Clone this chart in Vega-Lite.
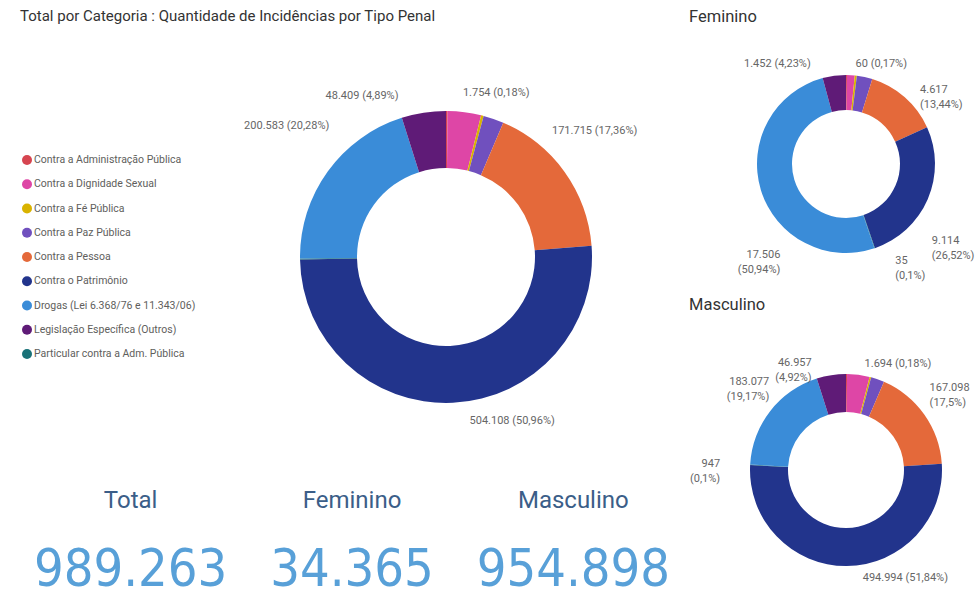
{
  "$schema": "https://vega.github.io/schema/vega-lite/v6.json",
  "padding": {"left": 20, "top": 8, "right": 0, "bottom": 0},
  "background": "white",
  "config": {
    "view": {"stroke": null},
    "font": "Roboto",
    "locale": {"number": {"decimal": ",", "thousands": ".", "grouping": [3], "currency": ["R$ ", ""]}},
    "title": {"anchor": "start", "fontWeight": "normal", "color": "#333333", "font": "Roboto", "baseline": "bottom"},
    "text": {"font": "Roboto", "fontSize": 11, "fill": "#666666", "baseline": "middle", "lineBreak": "\n", "lineHeight": 15}
  },
  "datasets": {
    "incid": [
      {"grupo": "Total", "categoria": "Contra a Administração Pública", "ordem": 1, "valor": 1754, "rotulo": "1.754 (0,18%)"},
      {"grupo": "Total", "categoria": "Contra a Dignidade Sexual", "ordem": 2, "valor": 36500, "rotulo": ""},
      {"grupo": "Total", "categoria": "Contra a Fé Pública", "ordem": 3, "valor": 2800, "rotulo": ""},
      {"grupo": "Total", "categoria": "Contra a Paz Pública", "ordem": 4, "valor": 22412, "rotulo": ""},
      {"grupo": "Total", "categoria": "Contra a Pessoa", "ordem": 5, "valor": 171715, "rotulo": "171.715 (17,36%)"},
      {"grupo": "Total", "categoria": "Contra o Patrimônio", "ordem": 6, "valor": 504108, "rotulo": "504.108 (50,96%)"},
      {"grupo": "Total", "categoria": "Particular contra a Adm. Pública", "ordem": 7, "valor": 982, "rotulo": ""},
      {"grupo": "Total", "categoria": "Drogas (Lei 6.368/76 e 11.343/06)", "ordem": 8, "valor": 200583, "rotulo": "200.583 (20,28%)"},
      {"grupo": "Total", "categoria": "Legislação Específica (Outros)", "ordem": 9, "valor": 48409, "rotulo": "48.409 (4,89%)"},
      {"grupo": "Feminino", "categoria": "Contra a Administração Pública", "ordem": 1, "valor": 60, "rotulo": "60 (0,17%)"},
      {"grupo": "Feminino", "categoria": "Contra a Dignidade Sexual", "ordem": 2, "valor": 480, "rotulo": ""},
      {"grupo": "Feminino", "categoria": "Contra a Fé Pública", "ordem": 3, "valor": 130, "rotulo": ""},
      {"grupo": "Feminino", "categoria": "Contra a Paz Pública", "ordem": 4, "valor": 971, "rotulo": ""},
      {"grupo": "Feminino", "categoria": "Contra a Pessoa", "ordem": 5, "valor": 4617, "rotulo": "4.617\n(13,44%)"},
      {"grupo": "Feminino", "categoria": "Contra o Patrimônio", "ordem": 6, "valor": 9114, "rotulo": "9.114\n(26,52%)"},
      {"grupo": "Feminino", "categoria": "Particular contra a Adm. Pública", "ordem": 7, "valor": 35, "rotulo": "35\n(0,1%)"},
      {"grupo": "Feminino", "categoria": "Drogas (Lei 6.368/76 e 11.343/06)", "ordem": 8, "valor": 17506, "rotulo": "17.506\n(50,94%)"},
      {"grupo": "Feminino", "categoria": "Legislação Específica (Outros)", "ordem": 9, "valor": 1452, "rotulo": "1.452 (4,23%)"},
      {"grupo": "Masculino", "categoria": "Contra a Administração Pública", "ordem": 1, "valor": 1694, "rotulo": "1.694 (0,18%)"},
      {"grupo": "Masculino", "categoria": "Contra a Dignidade Sexual", "ordem": 2, "valor": 36020, "rotulo": ""},
      {"grupo": "Masculino", "categoria": "Contra a Fé Pública", "ordem": 3, "valor": 2670, "rotulo": ""},
      {"grupo": "Masculino", "categoria": "Contra a Paz Pública", "ordem": 4, "valor": 21441, "rotulo": ""},
      {"grupo": "Masculino", "categoria": "Contra a Pessoa", "ordem": 5, "valor": 167098, "rotulo": "167.098\n(17,5%)"},
      {"grupo": "Masculino", "categoria": "Contra o Patrimônio", "ordem": 6, "valor": 494994, "rotulo": "494.994 (51,84%)"},
      {"grupo": "Masculino", "categoria": "Particular contra a Adm. Pública", "ordem": 7, "valor": 947, "rotulo": "947\n(0,1%)"},
      {"grupo": "Masculino", "categoria": "Drogas (Lei 6.368/76 e 11.343/06)", "ordem": 8, "valor": 183077, "rotulo": "183.077\n(19,17%)"},
      {"grupo": "Masculino", "categoria": "Legislação Específica (Outros)", "ordem": 9, "valor": 46957, "rotulo": "46.957\n(4,92%)"}
    ]
  },
  "data": {"name": "incid"},
  "spacing": 5,
  "resolve": {"scale": {"color": "independent", "theta": "independent"}, "legend": {"color": "independent"}},
  "hconcat": [
    {
      "spacing": 0,
      "resolve": {"scale": {"color": "independent", "theta": "independent"}, "legend": {"color": "independent"}},
      "vconcat": [
        {
          "title": {"text": "Total por Categoria : Quantidade de Incidências por Tipo Penal", "fontSize": 15, "anchor": "start", "frame": "group", "offset": 17},
          "bounds": "flush",
          "center": true,
          "spacing": 186,
          "resolve": {"scale": {"color": "independent", "theta": "independent", "y": "independent"}, "legend": {"color": "independent"}},
          "hconcat": [
            {
              "width": 14,
              "height": 218.25,
              "transform": [{"filter": "datum.grupo === 'Total'"}],
              "encoding": {
                "y": {"field": "categoria", "type": "nominal", "axis": null,
                  "sort": ["Contra a Administração Pública", "Contra a Dignidade Sexual", "Contra a Fé Pública", "Contra a Paz Pública", "Contra a Pessoa", "Contra o Patrimônio", "Drogas (Lei 6.368/76 e 11.343/06)", "Legislação Específica (Outros)", "Particular contra a Adm. Pública"],
                  "scale": {"type": "point", "padding": 0.5}}
              },
              "layer": [
                {
                  "mark": {"type": "circle", "size": 100, "opacity": 1},
                  "encoding": {
                    "color": {
                      "field": "categoria", "type": "nominal", "legend": null,
                      "scale": {
                        "domain": ["Contra a Administração Pública", "Contra a Dignidade Sexual", "Contra a Fé Pública", "Contra a Paz Pública", "Contra a Pessoa", "Contra o Patrimônio", "Drogas (Lei 6.368/76 e 11.343/06)", "Legislação Específica (Outros)", "Particular contra a Adm. Pública"],
                        "range": ["#D64550", "#DE46A6", "#D9B300", "#7050BE", "#E4693A", "#22348C", "#3A8CD8", "#5F1B77", "#197278"]
                      }
                    }
                  }
                },
                {"mark": {"type": "text", "align": "left", "dx": 7, "fontSize": 10.5, "fill": "#605E5C"}, "encoding": {"text": {"field": "categoria"}}}
              ]
            },
            {
              "width": 452,
              "height": 432,
              "transform": [{"filter": "datum.grupo === 'Total'"}],
              "encoding": {
                "theta": {"field": "valor", "type": "quantitative", "stack": true},
                "order": {"field": "ordem", "type": "quantitative"}
              },
              "layer": [
                {
                  "mark": {"type": "arc", "innerRadius": 89, "outerRadius": 146},
                  "encoding": {
                    "color": {
                      "field": "categoria", "type": "nominal", "legend": null,
                      "scale": {
                        "domain": ["Contra a Administração Pública", "Contra a Dignidade Sexual", "Contra a Fé Pública", "Contra a Paz Pública", "Contra a Pessoa", "Contra o Patrimônio", "Drogas (Lei 6.368/76 e 11.343/06)", "Legislação Específica (Outros)", "Particular contra a Adm. Pública"],
                        "range": ["#D64550", "#DE46A6", "#D9B300", "#7050BE", "#E4693A", "#22348C", "#3A8CD8", "#5F1B77", "#197278"]
                      }
                    }
                  }
                },
                {"mark": {"type": "text", "radius": 160, "align": "left", "dx": 16, "dy": -4}, "encoding": {"text": {"condition": {"test": "datum.categoria === 'Contra a Administração Pública'", "field": "rotulo"}, "value": ""}}},
                {"mark": {"type": "text", "radius": 160, "align": "left", "dx": -24, "dy": -33}, "encoding": {"text": {"condition": {"test": "datum.categoria === 'Contra a Pessoa'", "field": "rotulo"}, "value": ""}}},
                {"mark": {"type": "text", "radius": 160, "align": "left", "dx": 16, "dy": 4}, "encoding": {"text": {"condition": {"test": "datum.categoria === 'Contra o Patrimônio'", "field": "rotulo"}, "value": ""}}},
                {"mark": {"type": "text", "radius": 160, "align": "right", "dx": 13, "dy": -37}, "encoding": {"text": {"condition": {"test": "datum.categoria === 'Drogas (Lei 6.368/76 e 11.343/06)'", "field": "rotulo"}, "value": ""}}},
                {"mark": {"type": "text", "radius": 160, "align": "right", "dx": -23, "dy": -3}, "encoding": {"text": {"condition": {"test": "datum.categoria === 'Legislação Específica (Outros)'", "field": "rotulo"}, "value": ""}}}
              ]
            }
          ]
        },
        {
          "width": 664,
          "height": 126,
          "transform": [{"aggregate": [{"op": "sum", "field": "valor", "as": "soma"}], "groupby": ["grupo"]}],
          "encoding": {
            "x": {"field": "grupo", "type": "nominal", "sort": ["Total", "Feminino", "Masculino"], "axis": null, "scale": {"paddingInner": 0, "paddingOuter": 0}}
          },
          "layer": [
            {"mark": {"type": "text", "dy": -35, "font": "Roboto", "fontSize": 24, "fill": "#3B5E88", "align": "center"}, "encoding": {"text": {"field": "grupo"}}},
            {"mark": {"type": "text", "dy": 34, "font": "'DejaVu Sans Condensed', Roboto", "fontSize": 52, "fill": "#58A0D8", "align": "center"}, "encoding": {"text": {"field": "soma", "type": "quantitative", "format": ",d"}}}
          ]
        }
      ]
    },
    {
      "spacing": 54,
      "bounds": "flush",
      "resolve": {"scale": {"color": "independent", "theta": "independent"}, "legend": {"color": "independent"}},
      "vconcat": [
        {
          "title": {"text": "Feminino", "fontSize": 16.5, "dx": -24, "offset": 16, "frame": "group"},
          "width": 266,
          "height": 246,
          "transform": [{"filter": "datum.grupo === 'Feminino'"}],
          "encoding": {
            "theta": {"field": "valor", "type": "quantitative", "stack": true},
            "order": {"field": "ordem", "type": "quantitative"}
          },
          "layer": [
            {
              "mark": {"type": "arc", "innerRadius": 54, "outerRadius": 89},
              "encoding": {
                "color": {
                  "field": "categoria", "type": "nominal", "legend": null,
                  "scale": {
                    "domain": ["Contra a Administração Pública", "Contra a Dignidade Sexual", "Contra a Fé Pública", "Contra a Paz Pública", "Contra a Pessoa", "Contra o Patrimônio", "Drogas (Lei 6.368/76 e 11.343/06)", "Legislação Específica (Outros)", "Particular contra a Adm. Pública"],
                    "range": ["#D64550", "#DE46A6", "#D9B300", "#7050BE", "#E4693A", "#22348C", "#3A8CD8", "#5F1B77", "#197278"]
                  }
                }
              }
            },
            {"mark": {"type": "text", "radius": 100, "align": "left", "dx": 9, "dy": 0}, "encoding": {"text": {"condition": {"test": "datum.categoria === 'Contra a Administração Pública'", "field": "rotulo"}, "value": ""}}},
            {"mark": {"type": "text", "radius": 100, "align": "left", "dx": 8, "dy": 1}, "encoding": {"text": {"condition": {"test": "datum.categoria === 'Contra a Pessoa'", "field": "rotulo"}, "value": ""}}},
            {"mark": {"type": "text", "radius": 100, "align": "left", "dx": -6, "dy": 37}, "encoding": {"text": {"condition": {"test": "datum.categoria === 'Contra o Patrimônio'", "field": "rotulo"}, "value": ""}}},
            {"mark": {"type": "text", "radius": 100, "align": "left", "dx": 17, "dy": 2}, "encoding": {"text": {"condition": {"test": "datum.categoria === 'Particular contra a Adm. Pública'", "field": "rotulo"}, "value": ""}}},
            {"mark": {"type": "text", "radius": 100, "align": "right", "dx": 30, "dy": 62}, "encoding": {"text": {"condition": {"test": "datum.categoria === 'Drogas (Lei 6.368/76 e 11.343/06)'", "field": "rotulo"}, "value": ""}}},
            {"mark": {"type": "text", "radius": 100, "align": "right", "dx": -22, "dy": -1}, "encoding": {"text": {"condition": {"test": "datum.categoria === 'Legislação Específica (Outros)'", "field": "rotulo"}, "value": ""}}}
          ]
        },
        {
          "title": {"text": "Masculino", "fontSize": 16.5, "dx": -24, "offset": 22, "frame": "group"},
          "width": 266,
          "height": 258,
          "transform": [{"filter": "datum.grupo === 'Masculino'"}],
          "encoding": {
            "theta": {"field": "valor", "type": "quantitative", "stack": true},
            "order": {"field": "ordem", "type": "quantitative"}
          },
          "layer": [
            {
              "mark": {"type": "arc", "innerRadius": 58, "outerRadius": 96},
              "encoding": {
                "color": {
                  "field": "categoria", "type": "nominal", "legend": null,
                  "scale": {
                    "domain": ["Contra a Administração Pública", "Contra a Dignidade Sexual", "Contra a Fé Pública", "Contra a Paz Pública", "Contra a Pessoa", "Contra o Patrimônio", "Drogas (Lei 6.368/76 e 11.343/06)", "Legislação Específica (Outros)", "Particular contra a Adm. Pública"],
                    "range": ["#D64550", "#DE46A6", "#D9B300", "#7050BE", "#E4693A", "#22348C", "#3A8CD8", "#5F1B77", "#197278"]
                  }
                }
              }
            },
            {"mark": {"type": "text", "radius": 106, "align": "left", "dx": 18, "dy": 0}, "encoding": {"text": {"condition": {"test": "datum.categoria === 'Contra a Administração Pública'", "field": "rotulo"}, "value": ""}}},
            {"mark": {"type": "text", "radius": 106, "align": "left", "dx": -3, "dy": -21}, "encoding": {"text": {"condition": {"test": "datum.categoria === 'Contra a Pessoa'", "field": "rotulo"}, "value": ""}}},
            {"mark": {"type": "text", "radius": 106, "align": "left", "dx": 16, "dy": 2.5}, "encoding": {"text": {"condition": {"test": "datum.categoria === 'Contra o Patrimônio'", "field": "rotulo"}, "value": ""}}},
            {"mark": {"type": "text", "radius": 106, "align": "right", "dx": -20, "dy": 0}, "encoding": {"text": {"condition": {"test": "datum.categoria === 'Particular contra a Adm. Pública'", "field": "rotulo"}, "value": ""}}},
            {"mark": {"type": "text", "radius": 106, "align": "right", "dx": 7, "dy": -23}, "encoding": {"text": {"condition": {"test": "datum.categoria === 'Drogas (Lei 6.368/76 e 11.343/06)'", "field": "rotulo"}, "value": ""}}},
            {"mark": {"type": "text", "radius": 106, "align": "right", "dx": -18, "dy": -2}, "encoding": {"text": {"condition": {"test": "datum.categoria === 'Legislação Específica (Outros)'", "field": "rotulo"}, "value": ""}}}
          ]
        }
      ]
    }
  ]
}
